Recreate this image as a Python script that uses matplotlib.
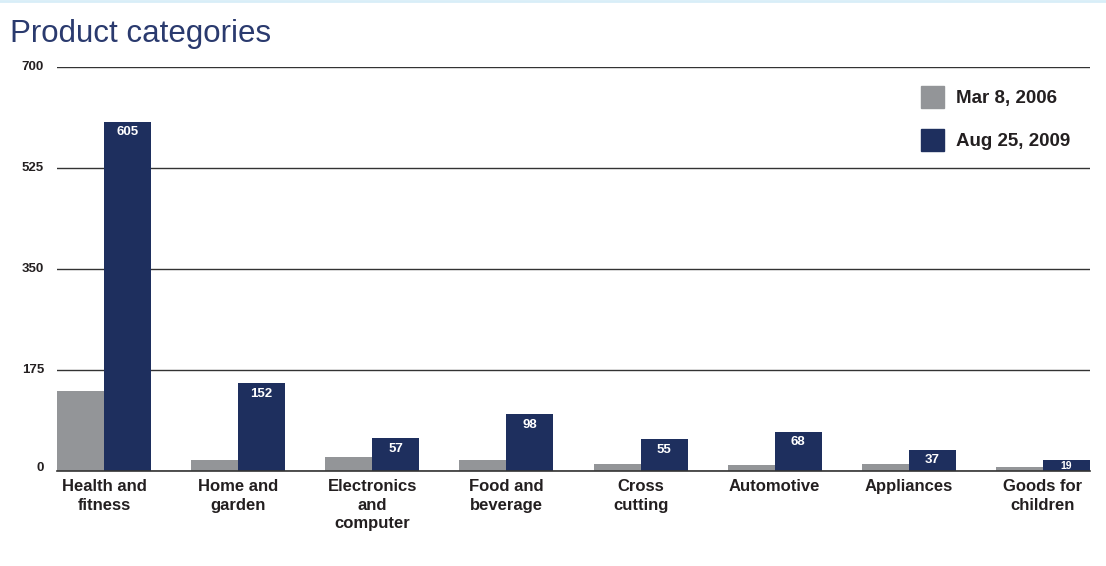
import matplotlib.pyplot as plt
from matplotlib.patches import Patch
import numpy as np

categories = ['Health and\nfitness', 'Home and\ngarden', 'Electronics\nand\ncomputer',
              'Food and\nbeverage', 'Cross\ncutting', 'Automotive', 'Appliances',
              'Goods for\nchildren']
mar_2006 = [139, 19, 24, 19, 12, 10, 12, 7]
aug_2009 = [605, 152, 57, 98, 55, 68, 37, 19]
yticks = [0, 175, 350, 525, 700]

gray = '#939598'
navy = '#1e2f5e'
txt = '#231f20'

plt.rcParams['font.family'] = ['Liberation Sans', 'DejaVu Sans']

fig = plt.figure(figsize=(11.06, 5.66), dpi=100)
ax = fig.add_axes([57 / 1106, 95 / 566, 1033 / 1106, 404 / 566])

x = np.arange(len(categories))
w = 0.35
ax.bar(x - w / 2, mar_2006, w, color=gray, zorder=3)
bars = ax.bar(x + w / 2, aug_2009, w, color=navy, zorder=3)

for b, v in zip(bars, aug_2009):
    small = v < 30
    ax.annotate(str(v), (b.get_x() + b.get_width() / 2, v),
                xytext=(0, -4.5 if small else -7.5),
                textcoords='offset points', ha='center', va='center',
                color='white', fontweight='bold', fontsize=7.5 if small else 9.5,
                zorder=6, annotation_clip=False)

ax.set_xlim(-0.35, 7.35)
ax.set_ylim(0, 700)
ax.set_yticks(yticks)
ax.set_yticklabels([])
ax.tick_params(axis='y', length=0)
for t in yticks:
    ax.text(-13 / 1033, t + (6 if t == 0 else 0), str(t), transform=ax.get_yaxis_transform(),
            ha='right', va='center', fontweight='bold', fontsize=9.5, color=txt)
ax.yaxis.grid(True, color='#333333', linewidth=1, zorder=0)
ax.set_xticks(x)
ax.set_xticklabels(categories, fontweight='bold', fontsize=12, color=txt, linespacing=1.28)
ax.tick_params(axis='x', length=0, pad=6)
for s in ['top', 'right', 'left']:
    ax.spines[s].set_visible(False)
ax.spines['bottom'].set_color('#333333')
ax.spines['bottom'].set_linewidth(1.2)
ax.spines['bottom'].set_zorder(5)

handles = [Patch(color=gray, label='Mar 8, 2006'), Patch(color=navy, label='Aug 25, 2009')]
ax.legend(handles=handles, loc='upper right', bbox_to_anchor=(0.997, 0.995), frameon=False,
          prop={'weight': 'bold', 'size': 13.5}, handlelength=1.2, handleheight=1.45,
          labelspacing=1.1, handletextpad=0.65, labelcolor=txt)

fig.text(10 / 1106, 1 - 34 / 566, 'Product categories', fontsize=22.5, color='#2a3a6e',
         va='center', ha='left')
fig.add_artist(plt.Line2D([0, 1], [0.999, 0.999], color='#d8eef8', linewidth=2,
                          transform=fig.transFigure))

fig.savefig('out.png', dpi=100)
